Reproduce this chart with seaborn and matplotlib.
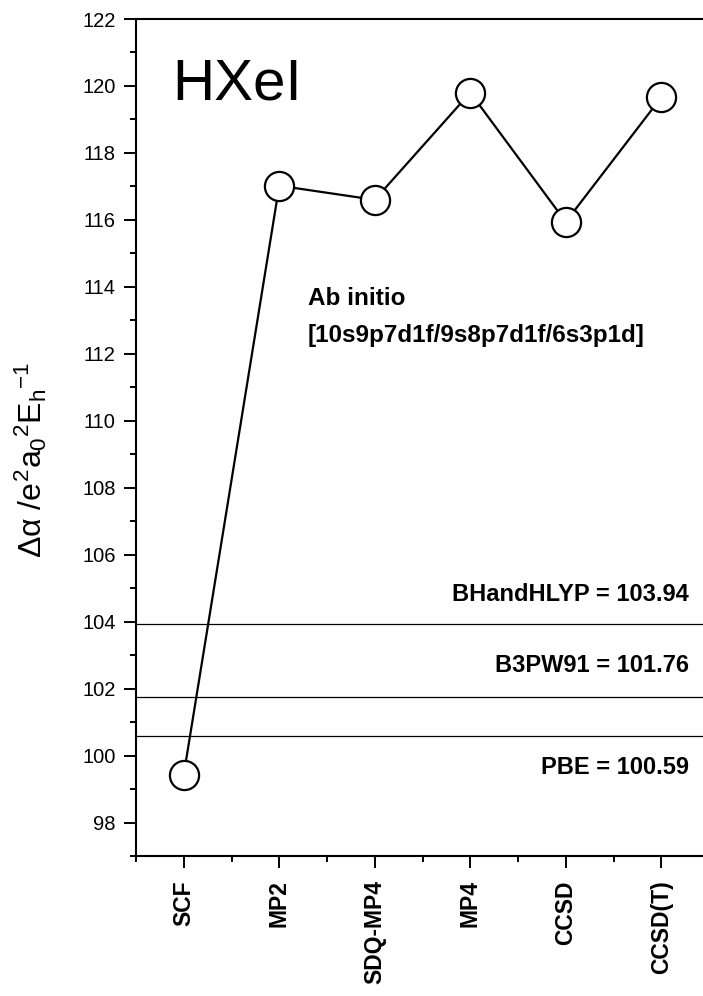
import matplotlib
matplotlib.use("Agg")
import matplotlib.pyplot as plt
from matplotlib.ticker import MultipleLocator
import seaborn as sns
import pandas as pd

# Polarizability anisotropy of HXeI across ab initio methods
methods = ["SCF", "MP2", "SDQ-MP4", "MP4", "CCSD", "CCSD(T)"]
delta_alpha = [99.43, 117.02, 116.60, 119.80, 115.94, 119.66]

# DFT reference values drawn as horizontal lines
dft_names = ["BHandHLYP", "B3PW91", "PBE"]
dft_values = [103.94, 101.76, 100.59]

sns.set_theme(style="ticks")
plt.rcParams["font.family"] = ["Liberation Sans", "DejaVu Sans"]
plt.rcParams["mathtext.fontset"] = "custom"
plt.rcParams["mathtext.rm"] = "Liberation Sans"
plt.rcParams["mathtext.it"] = "Liberation Sans"
plt.rcParams["mathtext.bf"] = "Liberation Sans:bold"
for key in ["text.color", "axes.labelcolor", "xtick.color", "ytick.color",
            "axes.edgecolor"]:
    plt.rcParams[key] = "black"

W, H = 703, 996
fig = plt.figure(figsize=(W / 100, H / 100), dpi=100)
ax = fig.add_axes([136 / W, 1 - 856 / H, (709 - 136) / W, (856 - 19) / H])

df = pd.DataFrame({"pos": range(len(methods)), "value": delta_alpha})

for v in dft_values:
    ax.axhline(v, color="black", lw=0.9, zorder=1)

sns.lineplot(data=df, x="pos", y="value", ax=ax, color="black", lw=1.6,
             marker="o", markersize=21, markerfacecolor="white",
             markeredgecolor="black", markeredgewidth=1.6, zorder=3)

ax.set_xlim(-0.5, 5.5)
ax.set_ylim(97, 122)
ax.set_xticks(range(len(methods)))
ax.set_xticklabels(methods, rotation=90, fontweight="bold", fontsize=16.5,
                   va="top")
ax.set_xticks([i + 0.5 for i in range(-1, len(methods))], minor=True)
ax.yaxis.set_major_locator(MultipleLocator(2))
ax.yaxis.set_minor_locator(MultipleLocator(1))
ax.tick_params(axis="both", which="major", direction="out", length=8.6,
               width=1.4, color="black")
ax.tick_params(axis="both", which="minor", direction="out", length=4.3,
               width=1.4, color="black")
ax.tick_params(axis="x", which="major", pad=9)
ax.tick_params(axis="y", which="major", pad=6, labelsize=14.5)

for side in ["left", "bottom", "top", "right"]:
    ax.spines[side].set_linewidth(1.5)
    ax.spines[side].set_color("black")

ax.set_xlabel("")
ax.set_ylabel("")
fig.text(31 / W, 1 - 460 / H,
         r"$\Delta\alpha\ /e^{2}a_{0}{}^{2}E_{h}{}^{-1}$",
         fontsize=23, rotation=90, ha="center", va="center")

fig.text(172 / W, 1 - 100 / H, "HXeI", fontsize=42, ha="left", va="baseline")
fig.text(308 / W, 1 - 305 / H, "Ab initio", fontsize=17.5,
         fontweight="bold", ha="left", va="baseline")
fig.text(308 / W, 1 - 342 / H, "[10s9p7d1f/9s8p7d1f/6s3p1d]",
         fontsize=17.5, fontweight="bold", ha="left", va="baseline")

label_baselines = [601, 672, 774]
for name, v, yb in zip(dft_names, dft_values, label_baselines):
    fig.text(689 / W, 1 - yb / H, f"{name} = {v:.2f}", fontsize=17,
             fontweight="bold", ha="right", va="baseline")

fig.savefig("out.png", dpi=100)
